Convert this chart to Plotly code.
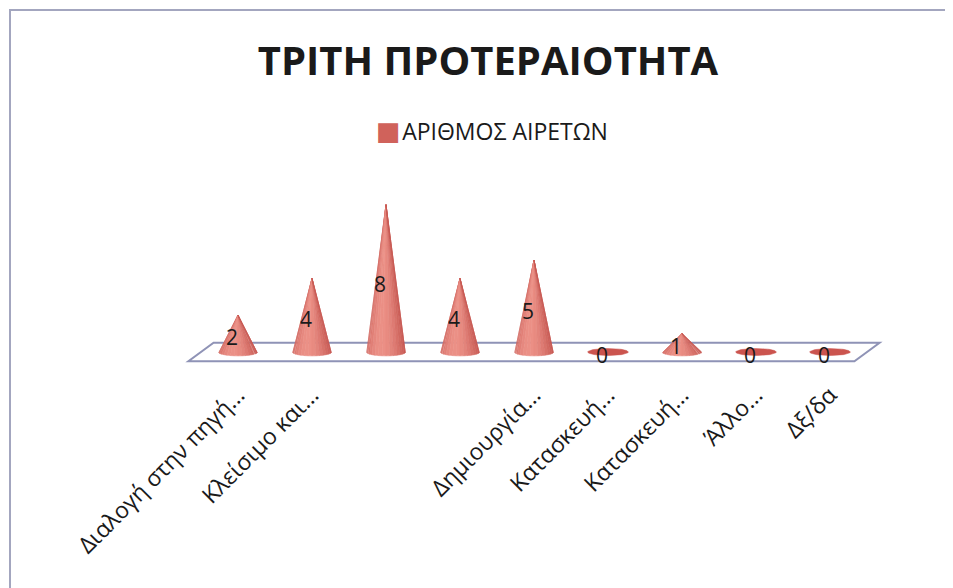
import numpy as np
import plotly.graph_objects as go

# ---- data ----
categories = ["Διαλογή στην πηγή...", "Κλείσιμο και...", "", "", "Δημιουργία...",
              "Κατασκευή...", "Κατασκευή...", "Άλλο...", "Δξ/δα"]
values = [2, 4, 8, 4, 5, 0, 1, 0, 0]
series_name = "ΑΡΙΘΜΟΣ ΑΙΡΕΤΩΝ"
title_text = "ΤΡΙΤΗ ΠΡΟΤΕΡΑΙΟΤΗΤΑ"

# ---- style ----
OFF = 8                      # default page body margin
W, H = 953 - OFF, 588 - OFF
FONT = "Open Sans, Noto Sans, DejaVu Sans, sans-serif"
half_w = 0.265     # cone base half width (category units)
half_h = 0.21      # base ellipse half height (value units)
n_strips = 16

dark = np.array([196, 84, 78])
light = np.array([236, 145, 135])


def shade(t):
    k = np.exp(-((t - 0.42) / 0.36) ** 2)
    c = dark + (light - dark) * k
    return "rgb(%d,%d,%d)" % tuple(c.astype(int))


fig = go.Figure()
x_idx = list(range(len(categories)))

for i, v in zip(x_idx, values):
    if v > 0:
        thetas = np.linspace(np.pi, 2 * np.pi, n_strips + 1)
        for k in range(n_strips):
            th = np.linspace(thetas[k], thetas[k + 1], 4)
            xs = [i] + list(i + half_w * np.cos(th)) + [i]
            ys = [v] + list(half_h * np.sin(th)) + [v]
            col = shade((k + 0.5) / n_strips)
            fig.add_trace(go.Scatter(x=xs, y=ys, mode="lines", fill="toself",
                                     fillcolor=col, line=dict(color=col, width=0.6),
                                     hoverinfo="skip", showlegend=False))
    else:
        th = np.linspace(0, 2 * np.pi, 60)
        fig.add_trace(go.Scatter(x=list(i + (half_w + 0.01) * np.cos(th)),
                                 y=list(0.19 * np.sin(th)), mode="lines", fill="toself",
                                 fillcolor="rgb(203,84,78)", line=dict(color="rgb(203,84,78)", width=0.5),
                                 hoverinfo="skip", showlegend=False))

# data labels
label_y = [v * 0.48 - 0.3 for v in values]
fig.add_trace(go.Scatter(x=[i - 0.08 for i in x_idx], y=label_y, mode="text",
                         text=[str(v) for v in values],
                         textfont=dict(family=FONT, size=21, color="#1a1a1a"),
                         hoverinfo="skip", showlegend=False))

# floor (parallelogram)
fig.add_shape(type="path",
              path="M -0.67 -0.5 L 8.33 -0.5 L 8.67 0.5 L -0.33 0.5 Z",
              xref="x", yref="y", line=dict(color="#8f93b6", width=2),
              fillcolor="rgba(255,255,255,0)", layer="below")

# outer frame
plot_h = 370 - OFF
fig.add_shape(type="rect", xref="paper", yref="paper",
              x0=(10 - OFF) / W, x1=1.05, y0=-0.7, y1=(plot_h - (10 - OFF)) / plot_h,
              line=dict(color="#a3a6bf", width=2), layer="below")

# legend (annotation)
fig.add_annotation(xref="paper", yref="paper", x=(492 - OFF) / W,
                   y=(plot_h - (130 - OFF)) / plot_h,
                   xanchor="center", yanchor="middle", showarrow=False,
                   text='<span style="color:#d0625b;font-size:26px">■</span>'
                        '<span style="font-size:6px"> </span>' + series_name,
                   font=dict(family=FONT, size=23, color="#1a1a1a"))

px_per_cat = 74.0
x0 = -(238 - OFF) / px_per_cat
x1 = x0 + W / px_per_cat
px_per_val = 18.4
base_px = 352 - OFF
y_top = base_px / px_per_val
y_bot = -(plot_h - base_px) / px_per_val

fig.update_layout(
    width=W, height=H,
    margin=dict(l=0, r=0, t=0, b=H - plot_h),
    paper_bgcolor="white", plot_bgcolor="rgba(0,0,0,0)",
    title=dict(text="<b>" + title_text + "</b>", x=(488 - OFF) / W, xanchor="center",
               y=1 - (61 - OFF) / H, yanchor="middle", yref="container",
               font=dict(family=FONT, size=40, color="#1a1a1a")),
    showlegend=False,
    xaxis=dict(range=[x0, x1], tickvals=x_idx, ticktext=categories, tickangle=-45,
               showgrid=False, zeroline=False, showline=False, ticks="",
               ticklabelstandoff=6,
               tickfont=dict(family=FONT, size=23, color="#1a1a1a"), fixedrange=True),
    yaxis=dict(range=[y_bot, y_top], visible=False, fixedrange=True),
)

fig.write_html("out.html")
